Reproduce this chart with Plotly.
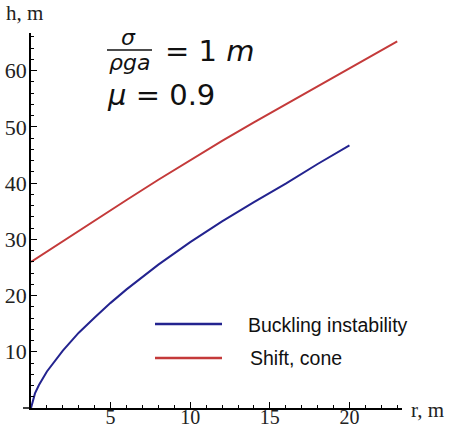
import plotly.graph_objects as go

# Data
r_buckling = [0, 0.25, 0.5, 1, 2, 3, 4, 5, 6, 8, 10, 12, 14, 16, 18, 20]
h_buckling = [0, 2.6, 4.1, 6.5, 10.2, 13.4, 16.1, 18.7, 21.1, 25.5, 29.5, 33.2, 36.6, 39.9, 43.4, 46.7]

r_shift = [0, 2, 4, 6, 8, 10, 12, 14, 16, 18, 20, 22, 23]
h_shift = [26.0, 29.7, 33.4, 37.0, 40.6, 44.1, 47.5, 50.8, 54.0, 57.1, 60.3, 63.6, 65.2]

series_names = ["Buckling instability", "Shift, cone"]
series_colors = ["#23238f", "#c43a3a"]

x_ticks = [5, 10, 15, 20]
y_ticks = [10, 20, 30, 40, 50, 60]

W, H = 450, 429
L, R, T, B = 31, 48, 33, 21
pw, ph = W - L - R, H - T - B


def px(x):
    return (x - L) / pw


def py(y):
    return (H - B - y) / ph


fig = go.Figure()
fig.add_trace(go.Scatter(x=r_buckling, y=h_buckling, mode="lines", name=series_names[0],
                         line=dict(color=series_colors[0], width=2), showlegend=False))
fig.add_trace(go.Scatter(x=r_shift, y=h_shift, mode="lines", name=series_names[1],
                         line=dict(color=series_colors[1], width=2), showlegend=False))

serif = "Liberation Serif, Times New Roman, serif"
sans = "Liberation Sans, Arial, sans-serif"
math = "DejaVu Sans, sans-serif"

axis_common = dict(showgrid=False, zeroline=False, showline=True, linecolor="black", linewidth=1.5,
                   ticks="inside", ticklen=6, tickwidth=1.2, tickcolor="black", automargin=False)

fig.update_xaxes(range=[0, 23.3], tickvals=x_ticks, ticklabelstandoff=-10,
                 tickfont=dict(family=serif, size=20, color="#222"),
                 minor=dict(dtick=1, ticks="inside", ticklen=3, tickcolor="black", tickwidth=1),
                 **axis_common)
fig.update_yaxes(range=[0, 66.7], tickvals=y_ticks, ticklabelstandoff=-2,
                 tickfont=dict(family=serif, size=22, color="#222"),
                 minor=dict(dtick=2, ticks="inside", ticklen=3, tickcolor="black", tickwidth=1),
                 **axis_common)

NB = "\u00a0"
ann = []
ann.append(dict(x=px(4), y=py(13), text="h, m", xanchor="left", yanchor="middle",
                font=dict(family=serif, size=21, color="#222")))
ann.append(dict(x=px(409), y=py(410), text="r, m", xanchor="left", yanchor="middle",
                font=dict(family=serif, size=21, color="#222")))
# formula
ann.append(dict(x=px(128), y=py(38), text="<i>σ</i>", xanchor="center", yanchor="middle",
                font=dict(family=math, size=22, color="#111")))
ann.append(dict(x=px(129), y=py(63), text="<i>ρga</i>", xanchor="center", yanchor="middle",
                font=dict(family=math, size=22, color="#111")))
ann.append(dict(x=px(163), y=py(51), text="=" + NB + "1" + NB + "<i>m</i>", xanchor="left",
                yanchor="middle", font=dict(family=math, size=29, color="#111")))
ann.append(dict(x=px(105), y=py(95), text="<i>μ</i>" + NB + "=" + NB + "0.9", xanchor="left",
                yanchor="middle", font=dict(family=math, size=29, color="#111")))
# legend texts
ann.append(dict(x=px(246), y=py(325), text=series_names[0], xanchor="left", yanchor="middle",
                font=dict(family=sans, size=19.5, color="#111")))
ann.append(dict(x=px(248), y=py(358), text=series_names[1], xanchor="left", yanchor="middle",
                font=dict(family=sans, size=19.5, color="#111")))
for a in ann:
    a.update(xref="paper", yref="paper", showarrow=False)

shapes = [
    dict(type="line", xref="paper", yref="paper", x0=px(107), x1=px(152), y0=py(50), y1=py(50),
         line=dict(color="#111", width=1.5)),
    dict(type="line", xref="paper", yref="paper", x0=px(155), x1=px(222), y0=py(324), y1=py(324),
         line=dict(color=series_colors[0], width=2.5)),
    dict(type="line", xref="paper", yref="paper", x0=px(155), x1=px(222), y0=py(358), y1=py(358),
         line=dict(color=series_colors[1], width=2.5)),
    dict(type="line", xref="paper", yref="paper", x0=px(23), x1=px(31), y0=0, y1=0,
         line=dict(color="black", width=1.5)),
]

fig.update_layout(width=W, height=H, margin=dict(l=L, r=R, t=T, b=B),
                  paper_bgcolor="white", plot_bgcolor="white",
                  annotations=ann, shapes=shapes, showlegend=False)

fig.write_html("out.html")
